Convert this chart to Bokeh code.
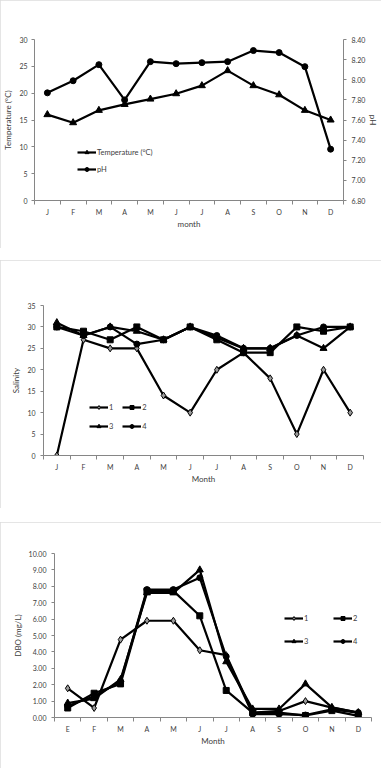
from bokeh.plotting import figure
from bokeh.models import (Range1d, LinearAxis, FixedTicker, Legend, LegendItem,
                          NumeralTickFormatter, Spacer)
from bokeh.embed import file_html
from bokeh.resources import INLINE

# ---------------- data ----------------
months_a = ["J", "F", "M", "A", "M", "J", "J", "A", "S", "O", "N", "D"]
months_b = ["E", "F", "M", "A", "M", "J", "J", "A", "S", "O", "N", "D"]

temperature = [16.0, 14.5, 16.8, 17.9, 18.9, 19.9, 21.4, 24.2, 21.4, 19.7, 16.8, 15.0]
ph = [7.87, 7.99, 8.15, 7.80, 8.18, 8.16, 8.17, 8.18, 8.29, 8.27, 8.13, 7.31]

sal1 = [0, 27, 25, 25, 14, 10, 20, 24, 18, 5, 20, 10]
sal2 = [30, 29, 27, 30, 27, 30, 27, 24, 24, 30, 29, 30]
sal3 = [31, 28, 30, 29, 27, 30, 27.5, 25, 25, 28, 25, 30]
sal4 = [30, 28, 30, 26, 27, 30, 28, 25, 25, 28, 30, 30]

dbo1 = [1.78, 0.58, 4.75, 5.90, 5.90, 4.10, 3.80, 0.30, 0.40, 1.00, 0.60, 0.30]
dbo2 = [0.58, 1.48, 2.05, 7.72, 7.72, 6.20, 1.65, 0.30, 0.30, 0.12, 0.42, 0.10]
dbo3 = [0.88, 1.15, 2.32, 7.60, 7.60, 9.00, 3.40, 0.52, 0.52, 2.05, 0.62, 0.30]
dbo4 = [0.70, 1.30, 2.20, 7.80, 7.80, 8.52, 3.72, 0.20, 0.20, 0.15, 0.50, 0.30]

xs = list(range(1, len(months_a) + 1))

FONT = "Lato"
AX = "#868686"
TXT = "#404040"
LW = 2.2


def base_fig(ylo, yhi, height, left, right, top, bottom):
    p = figure(width=381, height=height, x_range=Range1d(0.5, 12.5), y_range=Range1d(ylo, yhi),
               output_backend="svg", toolbar_location=None,
               min_border_left=left, min_border_right=right,
               min_border_top=top, min_border_bottom=bottom)
    p.xgrid.visible = False
    p.ygrid.visible = False
    p.outline_line_color = None
    p.background_fill_color = "white"
    p.border_fill_color = "white"
    p.styles = {"outline": "1px solid #dcdcdc", "outline-offset": "-1px"}
    return p


def style_x(p, labels, title):
    ax = p.xaxis[0]
    ax.ticker = FixedTicker(ticks=xs, minor_ticks=[i + 0.5 for i in range(0, 13)])
    ax.major_label_overrides = {x: m for x, m in zip(xs, labels)}
    ax.major_tick_out = 0
    ax.major_tick_in = 0
    ax.minor_tick_out = 4
    ax.minor_tick_in = 0
    ax.minor_tick_line_color = AX
    ax.axis_line_color = AX
    ax.major_label_standoff = 3
    ax.major_label_text_font = FONT
    ax.major_label_text_font_size = "7px"
    ax.major_label_text_color = TXT
    ax.axis_label = title
    ax.axis_label_text_font = FONT
    ax.axis_label_text_font_size = "8px"
    ax.axis_label_text_font_style = "normal"
    ax.axis_label_text_color = TXT
    ax.axis_label_standoff = 0


def style_y(ax, title, ticks, fmt, standoff=4, title_standoff=3):
    ax.ticker = FixedTicker(ticks=ticks)
    if fmt:
        ax.formatter = NumeralTickFormatter(format=fmt)
    ax.major_tick_out = 3
    ax.major_tick_in = 0
    ax.minor_tick_out = 0
    ax.minor_tick_in = 0
    ax.major_tick_line_color = AX
    ax.axis_line_color = AX
    ax.major_label_standoff = standoff
    ax.major_label_text_font = FONT
    ax.major_label_text_font_size = "7px"
    ax.major_label_text_color = TXT
    ax.axis_label = title
    ax.axis_label_text_font = FONT
    ax.axis_label_text_font_size = "8px"
    ax.axis_label_text_font_style = "normal"
    ax.axis_label_text_color = TXT
    ax.axis_label_standoff = title_standoff


def series(p, y, marker, size, fill="black", y_range_name="default"):
    ln = p.line(xs, y, line_color="black", line_width=LW, y_range_name=y_range_name)
    sc = p.scatter(xs, y, marker=marker, size=size, fill_color=fill, line_color="black",
                   line_width=1, y_range_name=y_range_name)
    return [ln, sc]


def style_legend(leg):
    leg.label_text_font = FONT
    leg.label_text_font_size = "7.5px"
    leg.label_text_color = TXT
    leg.background_fill_alpha = 0
    leg.border_line_color = None
    leg.padding = 0
    leg.margin = 0
    leg.glyph_width = 19
    leg.glyph_height = 10
    leg.label_height = 10
    leg.label_standoff = 1


# ---------------- panel 1 ----------------
p1 = base_fig(0, 30, 248, 33, 38, 39, 48)
style_x(p1, months_a, "month")
style_y(p1.yaxis[0], "Temperature (°C)", list(range(0, 31, 5)), None)
p1.extra_y_ranges = {"ph": Range1d(6.8, 8.4)}
rax = LinearAxis(y_range_name="ph")
style_y(rax, "pH", [6.8 + 0.2 * i for i in range(9)], "0.00", standoff=5, title_standoff=0)
p1.add_layout(rax, "right")

r_t = series(p1, temperature, "triangle", 7)
r_p = series(p1, ph, "circle", 6, y_range_name="ph")
leg1 = Legend(items=[LegendItem(label="Temperature (°C)", renderers=r_t),
                     LegendItem(label="pH", renderers=r_p)],
              location=(43, 26), spacing=7)
style_legend(leg1)
p1.add_layout(leg1)

# ---------------- panel 2 ----------------
p2 = base_fig(0, 35, 248, 43, 18, 45, 53)
style_x(p2, months_a, "Month")
style_y(p2.yaxis[0], "Salinity", list(range(0, 36, 5)), None, standoff=5)
s1 = series(p2, sal1, "diamond", 7, fill="#9a9a9a")
s2 = series(p2, sal2, "square", 6)
s3 = series(p2, sal3, "triangle", 7)
s4 = series(p2, sal4, "circle", 6)
leg2 = Legend(items=[LegendItem(label="1", renderers=s1), LegendItem(label="3", renderers=s3),
                     LegendItem(label="2", renderers=s2), LegendItem(label="4", renderers=s4)],
              location=(46, 24), spacing=9, ncols=2)
style_legend(leg2)
leg2.label_width = 0
p2.add_layout(leg2)

# ---------------- panel 3 ----------------
p3 = base_fig(0, 10, 246, 54, 10, 31, 51)
style_x(p3, months_b, "Month")
style_y(p3.yaxis[0], "DBO (mg/L)", list(range(0, 11)), "0.00", standoff=5)
d1 = series(p3, dbo1, "diamond", 7, fill="#9a9a9a")
d2 = series(p3, dbo2, "square", 6)
d3 = series(p3, dbo3, "triangle", 7)
d4 = series(p3, dbo4, "circle", 6)
leg3 = Legend(items=[LegendItem(label="1", renderers=d1), LegendItem(label="3", renderers=d3),
                     LegendItem(label="2", renderers=d2), LegendItem(label="4", renderers=d4)],
              location=(230, 71), spacing=13, ncols=2)
style_legend(leg3)
leg3.label_width = 16
p3.add_layout(leg3)

roots = [p1, Spacer(width=381, height=12), p2, Spacer(width=381, height=14), p3]

open("out.html", "w").write(file_html(roots, INLINE))
